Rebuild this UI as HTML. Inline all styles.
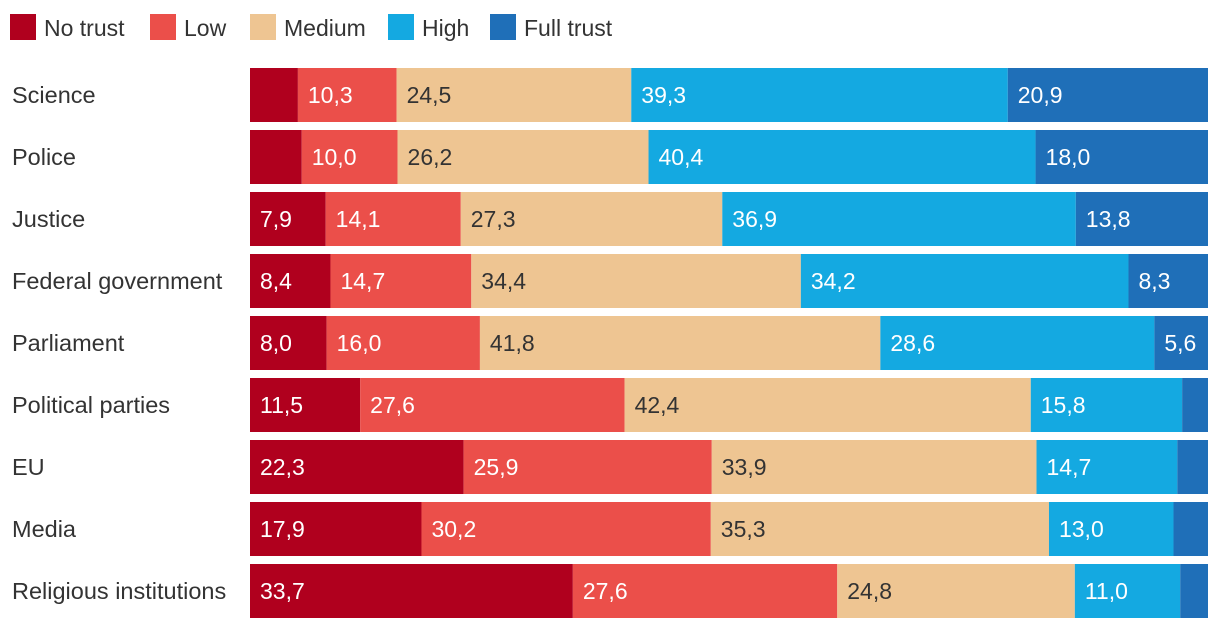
<!DOCTYPE html>
<html><head><meta charset="utf-8">
<style>
body{margin:0;background:#fff;width:1220px;height:630px;overflow:hidden;font-family:"Liberation Sans",sans-serif;}
svg text{font-family:"Liberation Sans",sans-serif;}
</style></head>
<body>
<svg id="chart" width="1220" height="630"></svg>
<script>
const categories=["Science","Police","Justice","Federal government","Parliament","Political parties","EU","Media","Religious institutions"];
const seriesNames=["No trust","Low","Medium","High","Full trust"];
const noTrust=[5.0,5.4,7.9,8.4,8.0,11.5,22.3,17.9,33.7];
const low=[10.3,10.0,14.1,14.7,16.0,27.6,25.9,30.2,27.6];
const medium=[24.5,26.2,27.3,34.4,41.8,42.4,33.9,35.3,24.8];
const high=[39.3,40.4,36.9,34.2,28.6,15.8,14.7,13.0,11.0];
const fullTrust=[20.9,18.0,13.8,8.3,5.6,2.7,3.2,3.6,2.9];
const series=[noTrust,low,medium,high,fullTrust];
const colors=["#b0001e","#eb4f4a","#eec592","#14a9e1","#1f6fb8"];
const textColors=["#fff","#fff","#333","#fff","#fff"];
const NS="http://www.w3.org/2000/svg";
const svg=document.getElementById("chart");
const x0=250,plotW=958;
const xs=v=>v/100*plotW;
const ys=i=>68+i*62;
const barH=54;
function mk(t,a){const e=document.createElementNS(NS,t);for(const k in a)e.setAttribute(k,a[k]);svg.appendChild(e);return e;}
const legX=[10,150,250,388,490];
seriesNames.forEach((n,s)=>{
  const lx=legX[s];
  const r=mk("rect",{x:lx,y:14,width:26,height:26,fill:colors[s]});
  
  
  const t=mk("text",{x:lx+34,y:36,"font-size":23,fill:"#333"});
  t.textContent=n;
  
  
});
categories.forEach((c,i)=>{
  const y=ys(i);
  const lab=mk("text",{x:12,y:y+barH/2+8,"font-size":23.5,fill:"#333"});
  lab.textContent=c;
  
  
  let cum=0;
  series.forEach((arr,s)=>{
    const v=arr[i];
    const bx=x0+xs(cum);
    const r=mk("rect",{x:bx,y:y,width:xs(v),height:barH,fill:colors[s]});
    
    
    if(v>=5.5){
      const t=mk("text",{x:bx+10,y:y+barH/2+8,"font-size":23,fill:textColors[s]});
      t.textContent=v.toFixed(1).replace(".",",");
      
      
    }
    cum+=v;
  });
});
</script>
</body></html>
